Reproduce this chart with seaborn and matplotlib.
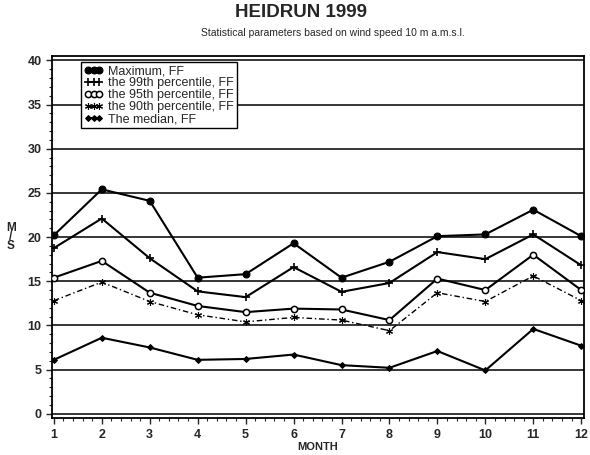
import numpy as np
import pandas as pd
import matplotlib
matplotlib.use("Agg")
import matplotlib.pyplot as plt
from matplotlib.ticker import MultipleLocator, AutoMinorLocator
import seaborn as sns

# monthly wind statistics, Heidrun 1999 (m/s)
months = list(range(1, 13))
maximum = [20.2, 25.4, 24.1, 15.4, 15.8, 19.3, 15.4, 17.2, 20.1, 20.3, 23.1, 20.1]
p99 = [18.75, 22.1, 17.6, 13.85, 13.2, 16.6, 13.8, 14.8, 18.3, 17.5, 20.3, 16.8]
p95 = [15.4, 17.3, 13.7, 12.2, 11.5, 11.9, 11.8, 10.6, 15.3, 14.0, 18.0, 14.0]
p90 = [12.8, 14.9, 12.7, 11.2, 10.4, 10.9, 10.6, 9.4, 13.7, 12.7, 15.6, 12.8]
median = [6.1, 8.6, 7.5, 6.1, 6.2, 6.7, 5.5, 5.2, 7.1, 4.9, 9.6, 7.7]

labels = ["Maximum, FF", "the 99th percentile, FF", "the 95th percentile, FF",
          "the 90th percentile, FF", "The median, FF"]

sns.set_style("white")
plt.rcParams['font.family'] = ['Liberation Sans', 'DejaVu Sans']

fig = plt.figure(figsize=(5.9, 4.55), dpi=100)
ax = fig.add_axes([0.088, 0.081, 0.902, 0.796])

# horizontal grid lines
for g in range(0, 45, 5):
    ax.axhline(g, color='black', lw=1.1, zorder=1)

styles = [
    (maximum, dict(marker='o', markersize=5, markerfacecolor='black', linestyle='-')),
    (p99, dict(marker='+', markersize=6, markeredgewidth=1.2, linestyle='-')),
    (p95, dict(marker='o', markersize=4.5, markerfacecolor='white', markeredgewidth=1.1, linestyle='-')),
    (p90, dict(marker=(6, 2, 0), markersize=5, markeredgewidth=0.8, linestyle=(0, (4, 2, 1, 2)), linewidth=1.0)),
    (median, dict(marker='D', markersize=3, markerfacecolor='black', linestyle='-')),
]

for (vals, kw), lab in zip(styles, labels):
    lw = kw.pop('linewidth', 1.5)
    sns.lineplot(x=months, y=vals, ax=ax, color='black', label=lab,
                 linewidth=lw, markeredgecolor='black', zorder=3, **kw)

ax.set_xlim(0.96, 12.06)
ax.set_ylim(-0.5, 40.5)
ax.xaxis.set_major_locator(MultipleLocator(1))
ax.xaxis.set_minor_locator(AutoMinorLocator(5))
ax.yaxis.set_major_locator(MultipleLocator(5))
ax.yaxis.set_minor_locator(AutoMinorLocator(5))
ax.tick_params(axis='both', which='major', direction='out', length=4, width=1,
               labelsize=9, bottom=True, left=True)
ax.tick_params(axis='both', which='minor', direction='out', length=2, width=0.8,
               bottom=True, left=True)
for t in ax.get_xticklabels() + ax.get_yticklabels():
    t.set_fontweight('bold')

for s in ax.spines.values():
    s.set_color('black')
    s.set_linewidth(1.3)

ax.set_xlabel("MONTH", fontsize=8, fontweight='bold', labelpad=1)
ax.set_ylabel("M\n/\nS", rotation=0, fontsize=8.5, fontweight='bold',
              labelpad=12, va='center', linespacing=0.7)

fig.text(0.51, 0.972, "HEIDRUN 1999", ha='center', va='center',
         fontsize=13.5, fontweight='bold')
fig.text(0.565, 0.927, "Statistical parameters based on wind speed 10 m a.m.s.l.",
         ha='center', va='center', fontsize=7.5)

leg = ax.legend(loc='upper left', bbox_to_anchor=(0.043, 1.0), numpoints=3,
                handlelength=1.5, handletextpad=0.4, labelspacing=0.0,
                borderpad=0.25, fontsize=9, frameon=True, fancybox=False,
                edgecolor='black', framealpha=1)
leg.get_frame().set_linewidth(1.0)
leg.set_zorder(5)

fig.savefig("out.png", dpi=100)
